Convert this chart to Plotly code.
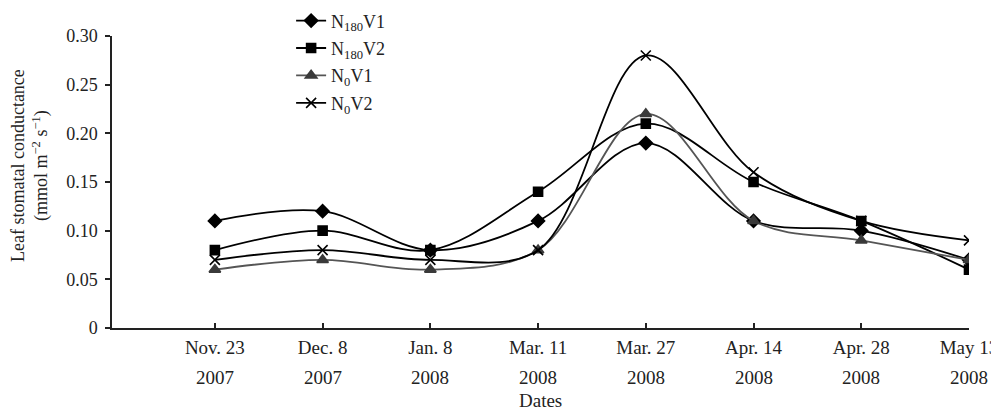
import plotly.graph_objects as go

dates = ["Nov. 23", "Dec. 8", "Jan. 8", "Mar. 11", "Mar. 27", "Apr. 14", "Apr. 28", "May 13"]
years = ["2007", "2007", "2008", "2008", "2008", "2008", "2008", "2008"]

n180v1 = [0.11, 0.12, 0.08, 0.11, 0.19, 0.11, 0.10, 0.07]
n180v2 = [0.08, 0.10, 0.08, 0.14, 0.21, 0.15, 0.11, 0.06]
n0v1 = [0.06, 0.07, 0.06, 0.08, 0.22, 0.11, 0.09, 0.07]
n0v2 = [0.07, 0.08, 0.07, 0.08, 0.28, 0.16, 0.11, 0.09]

yticks = [0, 0.05, 0.10, 0.15, 0.20, 0.25, 0.30]
yticktext = ["0", "0.05", "0.10", "0.15", "0.20", "0.25", "0.30"]

FONT = "Liberation Serif"
TXT = "#222222"
xs = list(range(len(dates)))

series = [
    ("N<sub>180</sub>V1", n180v1, "diamond", "#000000", "#000000", 10),
    ("N<sub>180</sub>V2", n180v2, "square", "#000000", "#000000", 9),
    ("N<sub>0</sub>V1", n0v1, "triangle-up", "#555555", "#3a3a3a", 10),
    ("N<sub>0</sub>V2", n0v2, "x-thin-open", "#000000", "#000000", 10),
]

fig = go.Figure()
for i, (name, vals, sym, lc, mc, ms) in enumerate(series):
    fig.add_trace(go.Scatter(
        x=xs, y=vals, name=name, mode="lines+markers", legendgroup=f"g{i}",
        line=dict(color=lc, width=1.8, shape="spline", smoothing=1.0),
        marker=dict(symbol=sym, size=ms, color=mc, line=dict(color=mc, width=1.6)),
    ))

fig.update_layout(
    width=991, height=412,
    margin=dict(l=112, r=22, t=36, b=84, autoexpand=False),
    paper_bgcolor="white", plot_bgcolor="white",
    font=dict(family=FONT, size=18, color=TXT),
    showlegend=True,
    legend=dict(x=0.209, y=1.115, xanchor="left", yanchor="top",
                font=dict(family=FONT, size=18, color=TXT),
                bgcolor="rgba(0,0,0,0)", tracegroupgap=1),
    xaxis=dict(
        range=[-0.955, 7.0], tickmode="array", tickvals=xs, ticktext=dates,
        showline=True, linecolor=TXT, linewidth=1.5,
        ticks="inside", ticklen=5, tickcolor=TXT, tickwidth=1.5,
        showgrid=False, zeroline=False, ticklabelstandoff=1,
        ticklabeloverflow="allow",
        tickfont=dict(family=FONT, size=19, color=TXT),
    ),
    yaxis=dict(
        range=[0, 0.30], tickmode="array", tickvals=yticks, ticktext=yticktext,
        showline=True, linecolor=TXT, linewidth=1.5,
        ticks="outside", ticklen=5, tickcolor=TXT, tickwidth=1.5,
        showgrid=False, zeroline=False, ticklabelstandoff=4,
        tickfont=dict(family=FONT, size=18, color=TXT),
    ),
)

for i, yr in enumerate(years):
    fig.add_annotation(x=i, y=0, xref="x", yref="paper", yanchor="middle",
                       yshift=-49, text=yr, showarrow=False,
                       font=dict(family=FONT, size=19, color=TXT))

fig.add_annotation(x=0.5, y=0, xref="paper", yref="paper", yanchor="middle",
                   yshift=-72, text="Dates", showarrow=False,
                   font=dict(family=FONT, size=19, color=TXT))

fig.add_annotation(x=-0.0957, y=0.558, xref="paper", yref="paper",
                   xanchor="center", yanchor="middle", textangle=-90,
                   text="Leaf stomatal conductance<br>(mmol m<sup>−2</sup> s<sup>−1</sup>)",
                   showarrow=False, font=dict(family=FONT, size=18, color=TXT))

fig.write_html("out.html")
